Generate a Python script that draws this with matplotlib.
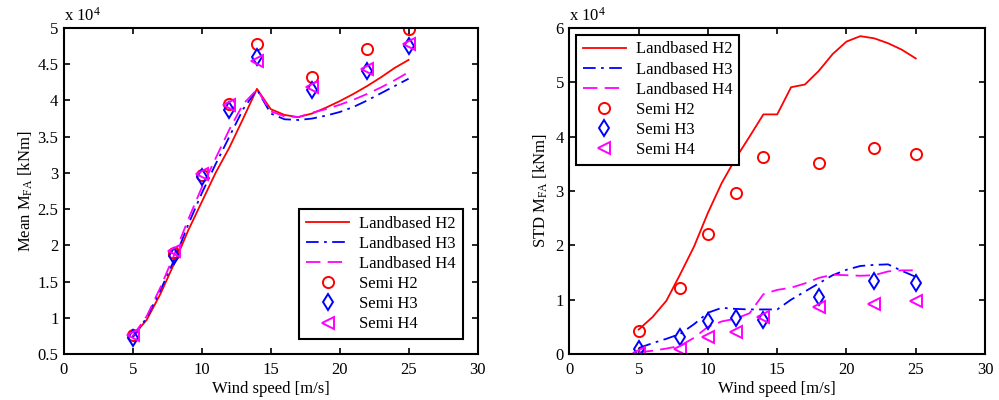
import numpy as np
import matplotlib
matplotlib.use('Agg')
import matplotlib.pyplot as plt

plt.rcParams['font.family'] = ['Liberation Serif', 'DejaVu Serif']
plt.rcParams['mathtext.fontset'] = 'custom'
plt.rcParams['mathtext.rm'] = 'Liberation Serif'
plt.rcParams['mathtext.it'] = 'Liberation Serif:italic'
plt.rcParams['font.size'] = 12

# wind speeds (landbased lines, 1 m/s steps) and semi points
ws_land = [5, 6, 7, 8, 9, 10, 11, 12, 13, 14, 15, 16, 17, 18, 19, 20, 21, 22, 23, 24, 25]
ws_semi = [5, 8, 10, 12, 14, 18, 22, 25]

# mean M_FA (x 10^4 kNm)
mean_land_h2 = [0.75, 0.97, 1.33, 1.75, 2.2, 2.6, 3.0, 3.35, 3.75, 4.16, 3.88, 3.8, 3.77, 3.82, 3.9, 3.99, 4.09, 4.2, 4.32, 4.45, 4.56]
mean_land_h3 = [0.73, 1.0, 1.38, 1.8, 2.28, 2.72, 3.12, 3.5, 3.88, 4.15, 3.82, 3.74, 3.73, 3.75, 3.79, 3.84, 3.91, 4.0, 4.1, 4.2, 4.3]
mean_land_h4 = [0.75, 1.02, 1.42, 1.87, 2.35, 2.8, 3.2, 3.6, 3.95, 4.15, 3.85, 3.78, 3.77, 3.83, 3.88, 3.94, 4.01, 4.09, 4.18, 4.28, 4.39]
mean_semi_h2 = [0.76, 1.9, 2.97, 3.95, 4.78, 4.32, 4.71, 4.99]
mean_semi_h3 = [0.72, 1.85, 2.95, 3.87, 4.6, 4.14, 4.4, 4.75]
mean_semi_h4 = [0.76, 1.92, 2.99, 3.94, 4.55, 4.18, 4.43, 4.78]

# STD M_FA (x 10^4 kNm)
std_land_h2 = [0.45, 0.68, 0.98, 1.47, 1.98, 2.6, 3.15, 3.6, 4.0, 4.41, 4.41, 4.91, 4.96, 5.21, 5.52, 5.75, 5.85, 5.81, 5.72, 5.6, 5.44]
std_land_h3 = [0.11, 0.2, 0.28, 0.37, 0.55, 0.76, 0.85, 0.83, 0.82, 0.82, 0.82, 1.0, 1.15, 1.3, 1.45, 1.55, 1.62, 1.64, 1.65, 1.53, 1.42]
std_land_h4 = [0.03, 0.06, 0.1, 0.15, 0.3, 0.5, 0.6, 0.65, 0.75, 1.1, 1.18, 1.22, 1.3, 1.4, 1.46, 1.45, 1.44, 1.45, 1.52, 1.54, 1.54]
std_semi_h2 = [0.42, 1.21, 2.21, 2.96, 3.62, 3.51, 3.79, 3.68]
std_semi_h3 = [0.09, 0.31, 0.61, 0.67, 0.63, 1.05, 1.35, 1.3]
std_semi_h4 = [0.02, 0.1, 0.31, 0.4, 0.68, 0.87, 0.92, 0.97]

labels = ['Landbased H2', 'Landbased H3', 'Landbased H4', 'Semi H2', 'Semi H3', 'Semi H4']


def draw(ax, land, semi):
    ax.plot(ws_land, land[0], '-', color='red', lw=1.3, label=labels[0])
    ax.plot(ws_land, land[1], '-.', color='blue', lw=1.3, dashes=(7, 3, 1.5, 3), label=labels[1])
    ax.plot(ws_land, land[2], '--', color='magenta', lw=1.3, dashes=(8, 4), label=labels[2])
    ax.plot(ws_semi, semi[0], 'o', color='red', mfc='none', ms=8, mew=1.4, label=labels[3])
    ax.plot(ws_semi, semi[1], 'd', color='blue', mfc='none', ms=8.5, mew=1.4, label=labels[4])
    ax.plot(ws_semi, semi[2], '<', color='magenta', mfc='none', ms=8, mew=1.4, label=labels[5])
    ax.set_xlim(0, 30)
    ax.set_xticks(range(0, 31, 5))
    ax.tick_params(direction='in', top=True, right=True, length=4, width=1.2)
    ax.tick_params(axis='x', pad=6)
    ax.tick_params(axis='y', pad=4)
    for s in ax.spines.values():
        s.set_linewidth(1.5)
    ax.set_xlabel('Wind speed [m/s]', labelpad=2)
    ax.text(0, 1.01, r'x 10$^4$', transform=ax.transAxes, ha='left', va='bottom')


fig = plt.figure(figsize=(9.99, 4), dpi=100)

ax1 = fig.add_axes([0.064, 0.115, 0.414, 0.815])
draw(ax1, [mean_land_h2, mean_land_h3, mean_land_h4], [mean_semi_h2, mean_semi_h3, mean_semi_h4])
ax1.set_ylim(0.5, 5)
yt = np.arange(0.5, 5.01, 0.5)
ax1.set_yticks(yt)
ax1.set_yticklabels(['%g' % v for v in yt])
ax1.set_ylabel(r'Mean M$_{\rm FA}$ [kNm]', labelpad=2)
leg = ax1.legend(loc='lower right', fancybox=False, edgecolor='black', framealpha=1,
                 handlelength=2.6, borderaxespad=0.9, labelspacing=0.25, borderpad=0.4,
                 handletextpad=0.6)
leg.get_frame().set_linewidth(1.5)

ax2 = fig.add_axes([0.570, 0.115, 0.416, 0.815])
draw(ax2, [std_land_h2, std_land_h3, std_land_h4], [std_semi_h2, std_semi_h3, std_semi_h4])
ax2.set_ylim(0, 6)
ax2.set_yticks(range(0, 7))
ax2.set_ylabel(r'STD M$_{\rm FA}$ [kNm]', labelpad=4)
leg = ax2.legend(loc='upper left', fancybox=False, edgecolor='black', framealpha=1,
                 handlelength=2.6, borderaxespad=0.4, labelspacing=0.25, borderpad=0.4,
                 handletextpad=0.6)
leg.get_frame().set_linewidth(1.5)

fig.savefig('out.png', dpi=100)
